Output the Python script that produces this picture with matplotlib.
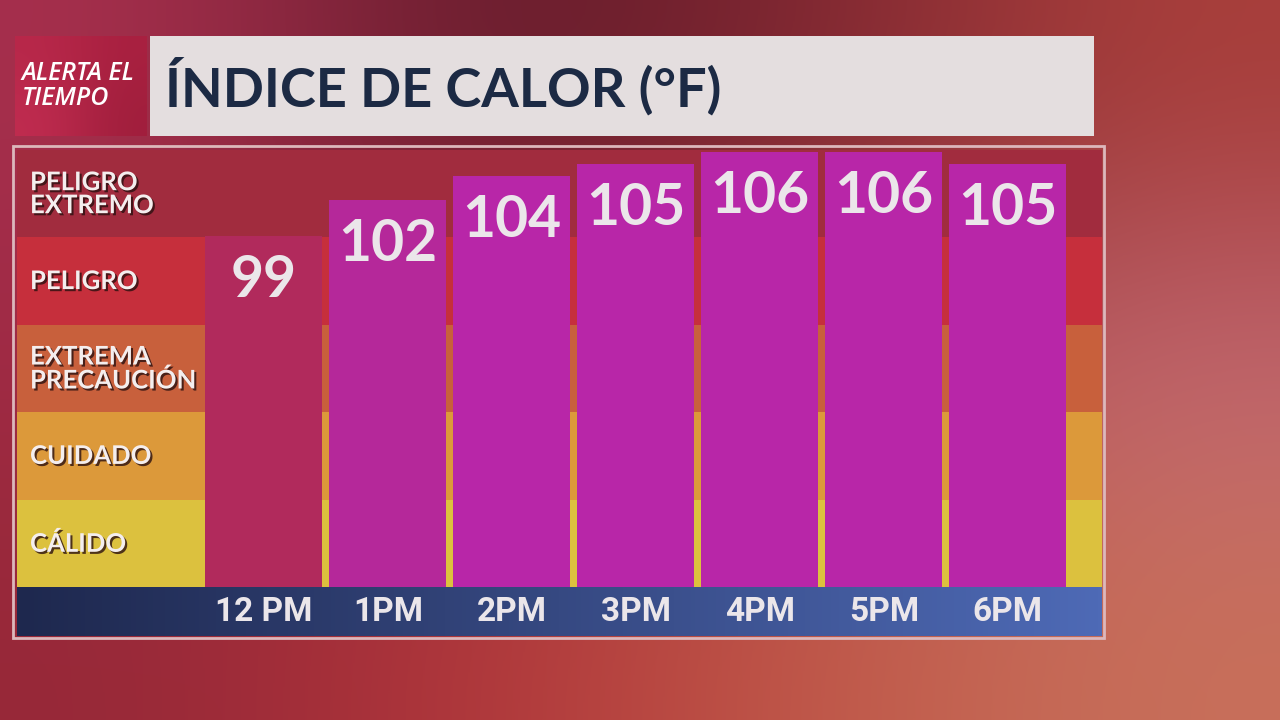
import numpy as np
import matplotlib.pyplot as plt
import matplotlib.patheffects as pe
from matplotlib.colors import to_rgb
from matplotlib.patches import Rectangle

# data
hours = ['12 PM', '1PM', '2PM', '3PM', '4PM', '5PM', '6PM']
heat_index = [99, 102, 104, 105, 106, 106, 105]
bar_colors = ['#b12a5c', '#b5289a', '#b826a8', '#b826a8', '#b826a8', '#b826a8', '#b826a8']
zones = ['CÁLIDO', 'CUIDADO', 'EXTREMA\nPRECAUCIÓN', 'PELIGRO', 'PELIGRO\nEXTREMO']
zone_colors = ['#dcc13e', '#dc993a', '#c8603c', '#c62f3c', '#a12c3e']
title = 'ÍNDICE DE CALOR (°F)'
logo = 'ALERTA EL\nTIEMPO'

W, H = 1280, 720
fig = plt.figure(figsize=(12.8, 7.2), dpi=100)


def box(x0, y0, x1, y1):
    # pixel box (from top-left) -> figure fraction rect
    return [x0 / W, 1 - y1 / H, (x1 - x0) / W, (y1 - y0) / H]


# background gradient
bg = fig.add_axes([0, 0, 1, 1])
bg.axis('off')
ctrl = [['#a8304e', '#5e1a2a', '#7c2430', '#a83e3a'],
        ['#a02a46', '#9a2a3a', '#b04a46', '#c06876'],
        ['#962838', '#b2363a', '#c05848', '#c8705a']]
img = np.array([[to_rgb(c) for c in row] for row in ctrl])
bg.imshow(img, extent=[0, 1, 0, 1], aspect='auto', interpolation='bicubic')
bg.set_xlim(0, 1)
bg.set_ylim(0, 1)

# logo block
lg = fig.add_axes(box(15, 36, 147, 136))
lg.axis('off')
lg.imshow(np.array([[to_rgb('#b8284a'), to_rgb('#a82040')],
                    [to_rgb('#c02c50'), to_rgb('#a01e3c')]]),
          extent=[0, 1, 0, 1], aspect='auto', interpolation='bicubic')
lg.set_xlim(0, 1)
lg.set_ylim(0, 1)
lg.text(0.05, 0.5, logo, ha='left', va='center', color='white',
        fontsize=18, fontweight='semibold', fontstyle='italic', family='Open Sans',
        linespacing=0.95)

# title block
tb = fig.add_axes(box(150, 36, 1094, 136))
tb.set_facecolor('#e4dedf')
tb.set_xticks([])
tb.set_yticks([])
for s in tb.spines.values():
    s.set_visible(False)
tb.text(15 / 944, 0.5, title, ha='left', va='center', color='#1c2a44',
        fontsize=39, fontweight='bold', family='Lato')

# frame around chart
fig.patches.append(Rectangle((13 / W, 1 - 638 / H), 1091 / W, 492 / H,
                             transform=fig.transFigure, fill=False,
                             edgecolor='#dcb8bc', lw=2))

# main chart
ax = fig.add_axes(box(17, 150, 1102, 587))
x = np.arange(len(hours))
ax.set_xlim(-1.99, 6.76)
ax.set_ylim(69.75, 106.17)
for i, c in enumerate(zone_colors):
    ax.add_patch(Rectangle((0, i / 5), 1, 0.2, transform=ax.transAxes,
                           facecolor=c, edgecolor='none', zorder=0))
    ax.text(0.012, (i + 0.5) / 5, zones[i], transform=ax.transAxes,
            ha='left', va='center', color='#f4eeee', fontsize=18.5,
            fontweight='bold', family='Lato', linespacing=0.95,
            path_effects=[pe.withSimplePatchShadow(offset=(1.5, -1.5),
                                                   shadow_rgbFace='#2a1010',
                                                   alpha=0.8)])
ax.bar(x, heat_index, width=0.94, color=bar_colors, bottom=0, zorder=2)
for xi, v in zip(x, heat_index):
    ax.annotate(str(v), (xi, v), xytext=(0, -13), textcoords='offset points',
                ha='center', va='top', color='#ebe6ea', fontsize=41,
                fontweight='bold', family='Lato', zorder=3)
ax.axis('off')

# time strip
tx = fig.add_axes(box(17, 587, 1102, 636))
grad = np.linspace(0, 1, 256)
c0, c1 = np.array(to_rgb('#1e284e')), np.array(to_rgb('#4e6ab6'))
strip = (c0[None, :] * (1 - grad[:, None]) + c1[None, :] * grad[:, None])[None, :, :]
tx.imshow(strip, extent=[-1.99, 6.76, 0, 1], aspect='auto')
tx.set_xlim(-1.99, 6.76)
tx.set_ylim(0, 1)
tx.axis('off')
for xi, h in zip(x, hours):
    tx.text(xi, 0.48, h, ha='center', va='center', color='#ebe6ea',
            fontsize=24, fontweight='bold', family='Roboto')

fig.savefig('out.png', dpi=100)
